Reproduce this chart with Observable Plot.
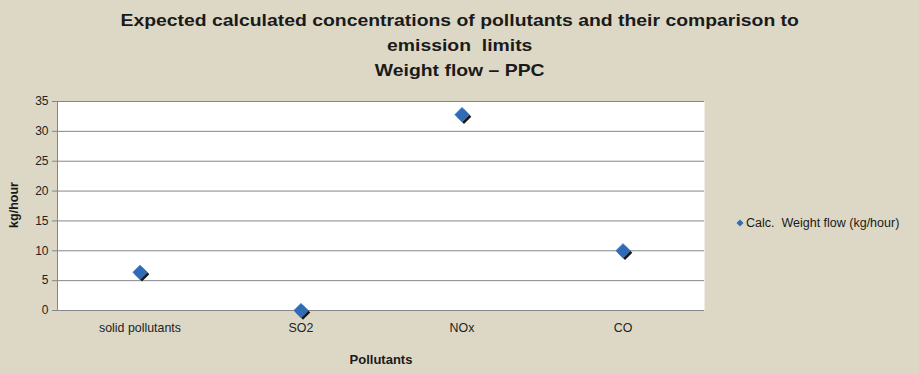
<!DOCTYPE html>
<html>
<head>
<meta charset="utf-8">
<script src="https://cdn.jsdelivr.net/npm/d3@7"></script>
<script src="https://cdn.jsdelivr.net/npm/@observablehq/plot@0.6"></script>
<style>
  html, body { margin: 0; padding: 0; background: #ddd8c6; }
  #wrap { position: relative; width: 919px; height: 374px; background: #ddd8c6; font-family: "Liberation Sans", Arial, sans-serif; overflow: hidden; }
  #title { position: absolute; left: 0; width: 919px; top: 8px; text-align: center; font-weight: bold; font-size: 17px; line-height: 25px; color: #1a1a1a; transform: scaleX(1.14); transform-origin: 458px 0; }
  #ylab { position: absolute; left: 14px; top: 205px; transform: translate(-50%, -50%) rotate(-90deg); font-weight: bold; font-size: 12.5px; color: #1a1a1a; white-space: nowrap; }
  #xlab { position: absolute; left: 381px; top: 359px; transform: translate(-50%, -50%); font-weight: bold; font-size: 13px; color: #1a1a1a; white-space: nowrap; }
  #legend { position: absolute; left: 735px; top: 216px; font-size: 12.5px; color: #1a1a1a; white-space: nowrap; display: flex; align-items: center; }
  #chart { position: absolute; left: 0; top: 0; }
</style>
</head>
<body>
<div id="wrap">
  <div id="chart"></div>
  <div id="title">Expected calculated concentrations of pollutants and their comparison to<br>emission&nbsp; limits<br>Weight flow – PPC</div>
  <div id="ylab">kg/hour</div>
  <div id="xlab">Pollutants</div>
  <div id="legend"><svg width="10" height="10" style="margin-right:1px"><path d="M5 1.5 L8.5 5 L5 8.5 L1.5 5 Z" fill="#2f6cb5"/></svg>Calc.&nbsp; Weight flow (kg/hour)</div>
</div>
<script>
const categories = ["solid pollutants", "SO2", "NOx", "CO"];
const weightFlow = [6.4, 0, 32.8, 10];
const yTicks = [0, 5, 10, 15, 20, 25, 30, 35];
const seriesName = "Calc.  Weight flow (kg/hour)";

const data = categories.map((c, i) => ({category: c, value: weightFlow[i]}));

const chart = Plot.plot({
  width: 919,
  height: 374,
  marginLeft: 57,
  marginRight: 215,
  marginTop: 101,
  marginBottom: 64,
  style: {background: "transparent", fontFamily: "'Liberation Sans', Arial, sans-serif", color: "#1a1a1a"},
  x: {type: "band", domain: categories, padding: 0},
  y: {domain: [0, 35]},
  marks: [
    Plot.frame({fill: "white", stroke: null}),
    Plot.ruleY(yTicks, {stroke: "#868686", strokeWidth: 1}),
    Plot.frame({anchor: "left", stroke: "#868686"}),
    Plot.axisY({ticks: yTicks, tickSize: 5, tickPadding: 4, stroke: "#868686", fontSize: 12, label: null, color: "#222"}),
    Plot.axisX({tickSize: 0, tickPadding: 13, fontSize: 12.4, label: null, color: "#222"}),
    Plot.dot(data, {x: "category", y: "value", symbol: "diamond2", r: 6.6, fill: "#1a1a1a", dx: 2, dy: 2}),
    Plot.dot(data, {x: "category", y: "value", symbol: "diamond2", r: 6.6, fill: "#2f6cb5", stroke: "#5a8fd0", strokeWidth: 0.6})
  ]
});
document.getElementById("chart").appendChild(chart);
</script>
</body>
</html>
